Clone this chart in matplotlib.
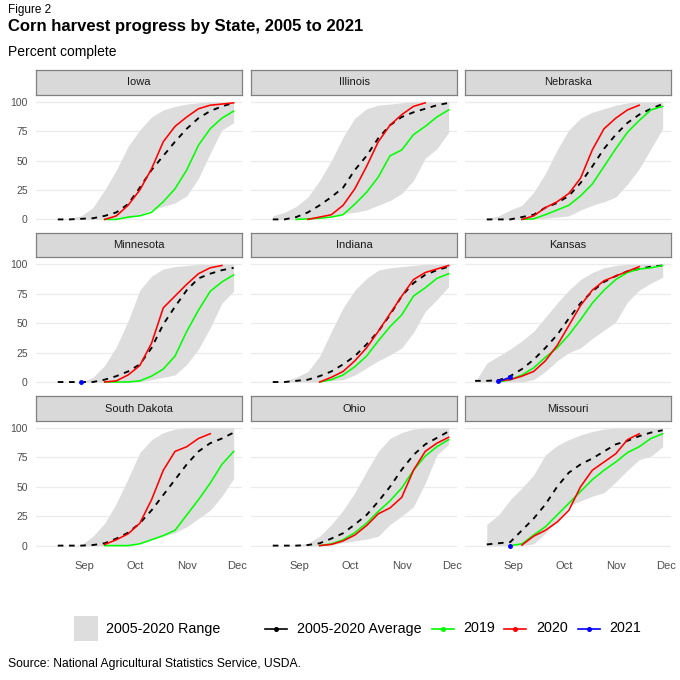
import numpy as np
import pandas as pd
import matplotlib

matplotlib.use("Agg")

import matplotlib.pyplot as plt
import matplotlib.dates as mdates
from matplotlib.patches import Rectangle
from matplotlib.lines import Line2D

plt.rcParams["font.family"] = ["Liberation Sans", "DejaVu Sans"]

nan = np.nan

# weekly report dates (plotted on a common 2020 calendar)
week_dates = pd.to_datetime([
    "2020-08-09", "2020-08-16", "2020-08-23", "2020-08-30", "2020-09-06",
    "2020-09-13", "2020-09-20", "2020-09-27", "2020-10-04", "2020-10-11",
    "2020-10-18", "2020-10-25", "2020-11-01", "2020-11-08", "2020-11-15",
    "2020-11-22", "2020-11-29",
])

states = [
    "Iowa", "Illinois", "Nebraska",
    "Minnesota", "Indiana", "Kansas",
    "South Dakota", "Ohio", "Missouri",
]

# percent complete, one value per week (nan = not reported)
iowa_avg = [nan, 0, 0, 0.5, 1, 3, 6, 13, 27, 42, 54, 66, 77, 86, 92, 96, 99]
iowa_lo = [nan, 0, 0, 0, 0, 0, 0, 1, 4, 8, 11, 14, 20, 35, 56, 76, 82]
iowa_hi = [nan, 0, 1, 3, 10, 25, 42, 62, 76, 87, 93, 96, 98, 99, 100, 100, 100]
iowa_2019 = [nan, nan, nan, nan, nan, 0, 0, 2, 3, 6, 15, 26, 42, 63, 77, 86, 92]
iowa_2020 = [nan, nan, nan, nan, nan, 0, 3, 12, 25, 43, 66, 79, 87, 94, 97, 98, 99]
iowa_2021 = [nan] * 17

illinois_avg = [nan, 0, 0, 2, 6, 12, 19, 27, 42, 54, 69, 80, 87, 91, 94, 97, 99]
illinois_lo = [nan, 0, 0, 0, 0, 2, 3, 5, 6, 8, 12, 16, 22, 33, 52, 60, 74]
illinois_hi = [nan, 3, 6, 11, 19, 33, 50, 70, 86, 94, 97, 98, 99, 100, 100, 100, 100]
illinois_2019 = [nan, nan, nan, 0, 0.5, 1, 2, 4, 13, 23, 36, 54, 59, 72, 79, 87, 93]
illinois_2020 = [nan, nan, nan, nan, 0, 2, 4, 12, 26, 45, 66, 80, 89, 96, 99, nan, nan]
illinois_2021 = [nan] * 17

nebraska_avg = [nan, 0, 0, 0, 2, 4, 10, 14, 20, 31, 45, 60, 72, 82, 89, 94, 98]
nebraska_lo = [nan, 0, 0, 0, 0, 0, 1, 2, 3, 8, 12, 15, 19, 30, 43, 60, 77]
nebraska_hi = [nan, 0.5, 3, 8, 12, 23, 39, 59, 76, 86, 91, 94, 97, 99, 100, 100, 100]
nebraska_2019 = [nan, nan, nan, nan, 0, 0.5, 4, 8, 12, 20, 30, 45, 60, 74, 84, 93, 96]
nebraska_2020 = [nan, nan, nan, nan, 0, 3, 10, 15, 22, 35, 59, 77, 86, 93, 97, nan, nan]
nebraska_2021 = [nan] * 17

minnesota_avg = [nan, 0, 0, 0, 0, 2, 5, 9, 15, 29, 49, 64, 78, 88, 92, 95, 97]
minnesota_lo = [nan, 0, 0, 0, 0, 0, 0, 0, 0, 2, 4, 6, 15, 28, 46, 67, 77]
minnesota_hi = [nan, 0, 0, 0, 4, 14, 30, 52, 78, 90, 96, 98, 99, 100, 100, 100, 100]
minnesota_2019 = [nan, nan, nan, nan, nan, 0, 0, 0, 1, 5, 11, 22, 43, 61, 77, 85, 91]
minnesota_2020 = [nan, nan, nan, nan, nan, 0, 1, 6, 14, 33, 63, 73, 83, 92, 97, 99, nan]
minnesota_2021 = [nan, nan, nan, 0, nan, nan, nan, nan, nan, nan, nan, nan, nan, nan, nan, nan, nan]

indiana_avg = [nan, 0, 0, 1, 2, 5, 9, 15, 22, 32, 43, 57, 73, 84, 91, 95, 98]
indiana_lo = [nan, 0, 0, 0, 0, 0, 1, 2, 6, 12, 18, 23, 29, 42, 60, 70, 81]
indiana_hi = [nan, 0, 1, 4, 9, 22, 43, 63, 78, 88, 95, 97, 98, 99, 100, 100, 100]
indiana_2019 = [nan, nan, nan, nan, nan, 0, 2, 6, 13, 22, 35, 47, 57, 73, 80, 88, 92]
indiana_2020 = [nan, nan, nan, nan, nan, 0, 4, 9, 18, 29, 43, 58, 73, 87, 93, 96, 99]
indiana_2021 = [nan] * 17

kansas_avg = [1, 1, 1.5, 5, 11, 19, 29, 40, 54, 67, 77, 85, 90, 94, 96, 98, 99]
kansas_lo = [0, 0, 0, 0, 0, 2, 9, 18, 25, 29, 37, 44, 51, 68, 78, 84, 89]
kansas_hi = [0, 16, 22, 28, 35, 43, 55, 67, 78, 87, 93, 97, 99, 100, 100, 100, 100]
kansas_2019 = [nan, nan, 0, 2, 6, 12, 21, 29, 40, 53, 67, 78, 87, 93, 96, 97, 99]
kansas_2020 = [nan, nan, 1, 2, 5, 9, 18, 31, 48, 65, 78, 86, 90, 94, 98, nan, nan]
kansas_2021 = [nan, nan, 0.5, 4, nan, nan, nan, nan, nan, nan, nan, nan, nan, nan, nan, nan, nan]

south_dakota_avg = [nan, 0, 0, 0, 0.5, 2, 6, 11, 19, 30, 43, 56, 69, 80, 87, 91, 96]
south_dakota_lo = [nan, 0, 0, 0, 0, 0, 0, 0, 2, 5, 8, 11, 16, 23, 30, 42, 57]
south_dakota_hi = [nan, 0, 0, 0.5, 8, 19, 36, 57, 79, 90, 96, 99, 100, 100, 100, 100, 100]
south_dakota_2019 = [nan, nan, nan, nan, nan, 0, 0, 0, 1.5, 5, 8.5, 13, 26, 39, 53, 69, 80]
south_dakota_2020 = [nan, nan, nan, nan, nan, 1, 5, 10, 19, 39, 64, 80, 84, 91, 95, nan, nan]
south_dakota_2021 = [nan] * 17

ohio_avg = [nan, 0, 0, 0, 0.5, 2, 6, 10.5, 18, 26, 37.5, 50, 64.5, 77, 86, 91.5, 97]
ohio_lo = [nan, 0, 0, 0, 0, 0, 0.5, 2.5, 4, 5.5, 8, 18, 25, 33, 53, 77, 86]
ohio_hi = [nan, 0, 0, 0.5, 2, 8, 18, 30, 45, 63, 80, 91, 96, 99, 100, 100, 100]
ohio_2019 = [nan, nan, nan, nan, nan, 0, 1.5, 5, 11, 19, 29, 38, 49, 64, 76, 84, 90]
ohio_2020 = [nan, nan, nan, nan, nan, 0, 1, 4, 9, 17, 27, 32, 41, 64, 80, 87, 92]
ohio_2021 = [nan] * 17

missouri_avg = [nan, 1, 2, 3, 13, 23, 35, 50, 62, 69, 74, 80, 86, 89, 93, 96, 98]
missouri_lo = [nan, 0, 0, 0, 0, 1.5, 10.5, 21, 34, 38, 42, 45, 54, 64, 73, 76, 84]
missouri_hi = [nan, 18, 26, 39, 49, 60, 77, 85, 90, 94, 97, 99, 100, 100, 100, 100, 100]
missouri_2019 = [nan, nan, nan, 0, 1.5, 9, 16, 26, 36, 46, 56, 64, 71, 79, 84, 91, 95]
missouri_2020 = [nan, nan, nan, nan, 0.5, 8, 13, 20, 30, 50, 64, 71, 78, 90, 95, nan, nan]
missouri_2021 = [nan, nan, nan, 0, nan, nan, nan, nan, nan, nan, nan, nan, nan, nan, nan, nan, nan]

state_data = {
    "Iowa": (iowa_avg, iowa_lo, iowa_hi, iowa_2019, iowa_2020, iowa_2021),
    "Illinois": (illinois_avg, illinois_lo, illinois_hi, illinois_2019, illinois_2020, illinois_2021),
    "Nebraska": (nebraska_avg, nebraska_lo, nebraska_hi, nebraska_2019, nebraska_2020, nebraska_2021),
    "Minnesota": (minnesota_avg, minnesota_lo, minnesota_hi, minnesota_2019, minnesota_2020, minnesota_2021),
    "Indiana": (indiana_avg, indiana_lo, indiana_hi, indiana_2019, indiana_2020, indiana_2021),
    "Kansas": (kansas_avg, kansas_lo, kansas_hi, kansas_2019, kansas_2020, kansas_2021),
    "South Dakota": (south_dakota_avg, south_dakota_lo, south_dakota_hi,
                     south_dakota_2019, south_dakota_2020, south_dakota_2021),
    "Ohio": (ohio_avg, ohio_lo, ohio_hi, ohio_2019, ohio_2020, ohio_2021),
    "Missouri": (missouri_avg, missouri_lo, missouri_hi, missouri_2019, missouri_2020, missouri_2021),
}

COLORS = {
    "range": "#DDDDDD",
    "avg": "black",
    "2019": "#00FF00",
    "2020": "#FF0000",
    "2021": "#0000FF",
    "strip": "#D9D9D9",
    "strip_edge": "#808080",
    "grid": "#EBEBEB",
    "tick": "#4D4D4D",
}

W = 680.0


def px_box(left, top, width, height):
    # pixel box (from top-left) -> figure fraction rect
    return [left / W, 1 - (top + height) / W, width / W, height / W]


fig = plt.figure(figsize=(6.8, 6.8), dpi=100)

col_left = [36, 251, 465]
row_top = [95.8, 258.4, 422.0]
panel_w = 206
panel_h = 129.5
strip_h = 24.5

x_min = pd.Timestamp("2020-08-03")
x_max = pd.Timestamp("2020-12-04")
month_ticks = pd.to_datetime(["2020-09-01", "2020-10-01", "2020-11-01", "2020-12-01"])

for i, state in enumerate(states):
    r, c = divmod(i, 3)
    avg, lo, hi, y2019, y2020, y2021 = state_data[state]

    ax = fig.add_axes(px_box(col_left[c], row_top[r], panel_w, panel_h))
    ax.set_facecolor("white")

    lo = np.array(lo, dtype=float)
    hi = np.array(hi, dtype=float)
    ok = ~np.isnan(lo)
    ax.fill_between(week_dates[ok], lo[ok], hi[ok], color=COLORS["range"], linewidth=0, zorder=1)

    ax.plot(week_dates, avg, color=COLORS["avg"], linewidth=1.35, dashes=(3, 3), zorder=3)
    ax.plot(week_dates, y2019, color=COLORS["2019"], linewidth=1.15, zorder=4)
    ax.plot(week_dates, y2020, color=COLORS["2020"], linewidth=1.15, zorder=5)
    ax.plot(week_dates, y2021, color=COLORS["2021"], linewidth=1.15,
            marker="o", markersize=2.5, zorder=6)

    ax.set_xlim(x_min, x_max)
    ax.set_ylim(-5, 105)
    ax.set_yticks([0, 25, 50, 75, 100])
    ax.set_xticks(month_ticks)
    ax.xaxis.set_major_formatter(mdates.DateFormatter("%b"))
    ax.grid(axis="y", color=COLORS["grid"], linewidth=0.9, zorder=0)
    ax.set_axisbelow(True)
    for spine in ax.spines.values():
        spine.set_visible(False)

    ax.tick_params(length=0, labelsize=7.5, labelcolor=COLORS["tick"])
    ax.tick_params(axis="y", pad=6)
    ax.tick_params(axis="x", pad=7, labelsize=8)
    if c != 0:
        ax.tick_params(axis="y", labelleft=False)
    if r != 2:
        ax.tick_params(axis="x", labelbottom=False)

    # facet strip
    sax = fig.add_axes(px_box(col_left[c], row_top[r] - strip_h - 1.2, panel_w, strip_h))
    sax.set_facecolor(COLORS["strip"])
    sax.set_xticks([])
    sax.set_yticks([])
    for spine in sax.spines.values():
        spine.set_color(COLORS["strip_edge"])
        spine.set_linewidth(0.9)
    sax.text(0.5, 0.5, state, ha="center", va="center", fontsize=8, color="#1A1A1A",
             transform=sax.transAxes)

# titles
fig.text(8 / W, 1 - 10 / W, "Figure 2", ha="left", va="center", fontsize=8.5)
fig.text(8 / W, 1 - 27 / W, "Corn harvest progress by State, 2005 to 2021",
         ha="left", va="center", fontsize=12, fontweight="bold")
fig.text(8 / W, 1 - 52 / W, "Percent complete", ha="left", va="center", fontsize=10)

# legend, drawn by hand to match the key sizes
leg_y = 1 - 628.5 / W
text_y = 1 - 632.5 / W
fig.add_artist(Rectangle((74 / W, 1 - 641 / W), 24 / W, 25 / W,
                         transform=fig.transFigure, facecolor=COLORS["range"], edgecolor="none"))
fig.text(106 / W, text_y, "2005-2020 Range", ha="left", va="baseline", fontsize=10.3)

legend_keys = [
    (265, 297, COLORS["avg"], "2005-2020 Average"),
    (432, 463, COLORS["2019"], "2019"),
    (504, 536, COLORS["2020"], "2020"),
    (578, 609, COLORS["2021"], "2021"),
]
for key_x, text_x, color, label in legend_keys:
    fig.add_artist(Line2D([key_x / W, (key_x + 22) / W], [leg_y, leg_y],
                          transform=fig.transFigure, color=color, linewidth=1.2))
    fig.add_artist(Line2D([(key_x + 11) / W], [leg_y], transform=fig.transFigure,
                          color=color, marker="o", markersize=2.6, linestyle="none"))
    fig.text(text_x / W, text_y, label, ha="left", va="baseline", fontsize=10.3)

fig.text(8 / W, 1 - 664 / W, "Source: National Agricultural Statistics Service, USDA.",
         ha="left", va="center", fontsize=8.7)

fig.savefig("out.png", dpi=100, facecolor="white")
